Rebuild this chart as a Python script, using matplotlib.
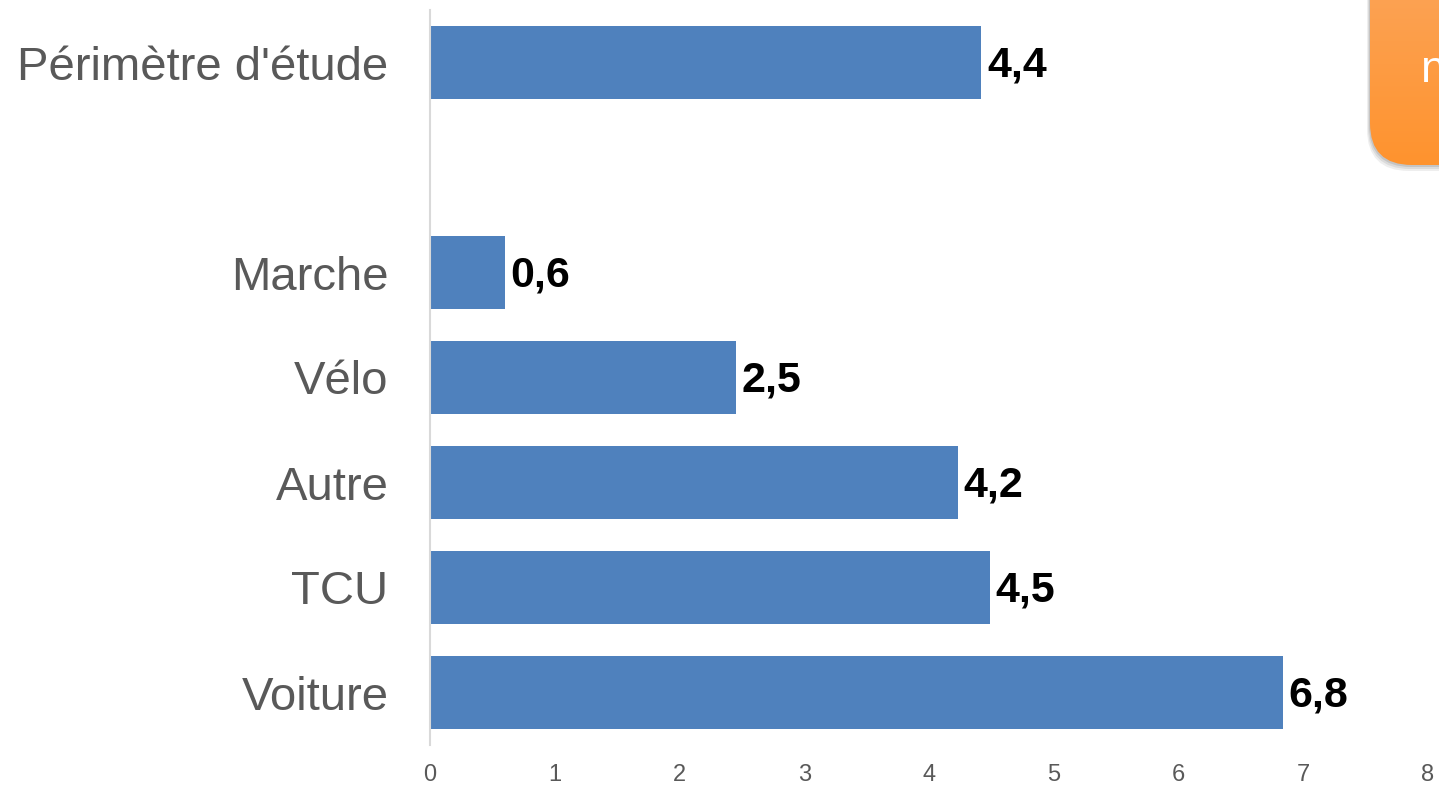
import numpy as np
import matplotlib
matplotlib.use('Agg')
import matplotlib.pyplot as plt
from matplotlib.patches import FancyBboxPatch

plt.rcParams['font.family'] = ['Liberation Sans', 'DejaVu Sans']

# ── Data ──────────────────────────────────────────────────────────────────────
categories = ['Voiture', 'TCU', 'Autre', 'Vélo', 'Marche', "Périmètre d'étude"]
positions  = [0, 1, 2, 3, 4, 6]          # gap between Marche and the total
values     = [6.84, 4.49, 4.23, 2.45, 0.6, 4.42]
labels     = ['6,8', '4,5', '4,2', '2,5', '0,6', '4,4']
xticks     = [0, 1, 2, 3, 4, 5, 6, 7, 8]

BAR_COLOR = '#4F81BD'

fig = plt.figure(figsize=(14.39, 7.87), dpi=100)
ax = fig.add_axes([430/1439, 1 - 745/787, (1428 - 430)/1439, (745 - 10)/787])

ax.barh(positions, values, height=0.7, color=BAR_COLOR)
for p, v, lab in zip(positions, values, labels):
    ax.annotate(lab, (v, p), xytext=(4, -2), textcoords='offset points',
                va='center', ha='left', fontsize=31, fontweight='bold', color='black')

ax.set_xlim(0, 8)
ax.set_ylim(-0.5, 6.5)
ax.set_yticks(positions)
ax.set_yticklabels(categories, fontsize=34, color='#595959')
ax.set_xticks(xticks)
ax.set_xticklabels([str(t) for t in xticks], fontsize=17, color='#595959')
ax.tick_params(axis='both', length=0)
ax.tick_params(axis='y', pad=30)
ax.tick_params(axis='x', pad=14)

for s in ['top', 'right', 'bottom']:
    ax.spines[s].set_visible(False)
ax.spines['left'].set_color('#D9D9D9')
ax.spines['left'].set_linewidth(1.5)

# ── Orange rounded box (cut at the right edge) ────────────────────────────────
bx = fig.add_axes([0, 0, 1, 1], zorder=5)
bx.axis('off')
for off, a in [(6, 0.15), (4, 0.2), (2, 0.3)]:
    bx.add_patch(FancyBboxPatch((1370 - off / 2, -60), 120, 225 + off,
                                boxstyle='round,pad=0,rounding_size=42',
                                facecolor='#909090', edgecolor='none', alpha=a, zorder=1))
box = FancyBboxPatch((1370, -60), 120, 225, boxstyle='round,pad=0,rounding_size=42',
                     facecolor='none', edgecolor='none', zorder=2)
bx.add_patch(box)
grad = np.linspace(0, 1, 256).reshape(-1, 1)
cmap = matplotlib.colors.LinearSegmentedColormap.from_list('o', ['#FBA75F', '#FF932E'])
im = bx.imshow(grad, cmap=cmap, extent=(1370, 1490, 165, -60), aspect='auto', zorder=3)
im.set_clip_path(box)
bx.set_xlim(0, 1439)
bx.set_ylim(787, 0)
bx.text(1421, 70, 'n', color='white', fontsize=32, ha='left', va='center', zorder=4)

fig.savefig('out.png', dpi=100)
